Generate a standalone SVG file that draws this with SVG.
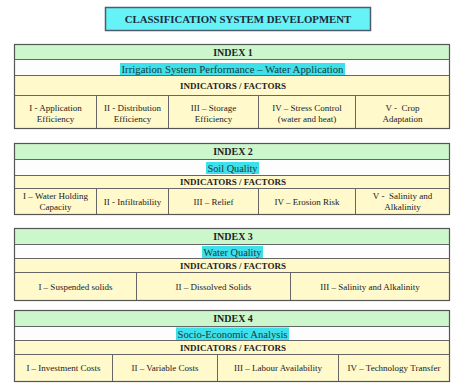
<svg xmlns="http://www.w3.org/2000/svg" width="452" height="385" viewBox="0 0 452 385">
  <style>
    text { font-family: "Liberation Serif", "Times New Roman", serif; fill: #222; text-anchor: middle; }
    .title { font-size: 10.8px; font-weight: bold; fill: #1e2a3a; }
    .idx { font-size: 10px; font-weight: bold; }
    .sub { font-size: 10.6px; fill: #1a3a40; }
    .hdr { font-size: 9px; font-weight: bold; }
    .cell { font-size: 9px; }
    .green { fill: #ccf6cc; stroke: #666; stroke-width: 1; }
    .white { fill: #fdfdfd; stroke: #666; stroke-width: 1; }
    .yellow { fill: #fff9cc; stroke: #666; stroke-width: 1; }
    .hl { fill: #3ee0ea; }
    .frame { fill: none; stroke: #555; stroke-width: 1.2; }
  </style>
  <rect width="452" height="385" fill="#ffffff"/>

  <!-- heading -->
  <g id="heading">
    <rect x="105.5" y="7.5" width="265" height="23" fill="#66f3f8" stroke="#4f5d6a" stroke-width="1.5"/>
    <text class="title" x="238" y="22.5">CLASSIFICATION SYSTEM DEVELOPMENT</text>
  </g>

  <!-- index 1 -->
  <g id="index1">
    <rect class="green" x="14.5" y="44.5" width="435" height="15"/>
    <rect class="white" x="14.5" y="59.5" width="435" height="16"/>
    <rect class="yellow" x="14.5" y="75.5" width="435" height="20"/>
    <rect class="yellow" x="14.5" y="95.5" width="82" height="33"/>
    <rect class="yellow" x="96.5" y="95.5" width="72" height="33"/>
    <rect class="yellow" x="168.5" y="95.5" width="90" height="33"/>
    <rect class="yellow" x="258.5" y="95.5" width="97" height="33"/>
    <rect class="yellow" x="355.5" y="95.5" width="94" height="33"/>
    <rect class="frame" x="14.5" y="44.5" width="435" height="84"/>
    <text class="idx" x="233" y="55.5">INDEX 1</text>
    <rect class="hl" x="120" y="63" width="225" height="12"/>
    <text class="sub" x="232.5" y="72.5" textLength="222" lengthAdjust="spacingAndGlyphs">Irrigation System Performance – Water Application</text>
    <text class="hdr" x="233" y="88.5">INDICATORS / FACTORS</text>
    <text class="cell" x="55.5" y="111">I - Application</text>
    <text class="cell" x="55.5" y="121.5">Efficiency</text>
    <text class="cell" x="132.5" y="111">II - Distribution</text>
    <text class="cell" x="132.5" y="121.5">Efficiency</text>
    <text class="cell" x="213.5" y="111">III – Storage</text>
    <text class="cell" x="213.5" y="121.5">Efficiency</text>
    <text class="cell" x="307" y="111">IV – Stress Control</text>
    <text class="cell" x="307" y="121.5">(water and heat)</text>
    <text class="cell" x="402.5" y="111" xml:space="preserve">V -  Crop</text>
    <text class="cell" x="402.5" y="121.5">Adaptation</text>
  </g>

  <!-- index 2 -->
  <g id="index2">
    <rect class="green" x="14.5" y="143.5" width="435" height="16"/>
    <rect class="white" x="14.5" y="159.5" width="435" height="16"/>
    <rect class="yellow" x="14.5" y="175.5" width="435" height="13"/>
    <rect class="yellow" x="14.5" y="188.5" width="82" height="26"/>
    <rect class="yellow" x="96.5" y="188.5" width="72" height="26"/>
    <rect class="yellow" x="168.5" y="188.5" width="90" height="26"/>
    <rect class="yellow" x="258.5" y="188.5" width="97" height="26"/>
    <rect class="yellow" x="355.5" y="188.5" width="94" height="26"/>
    <rect class="frame" x="14.5" y="143.5" width="435" height="71"/>
    <text class="idx" x="233" y="155">INDEX 2</text>
    <rect class="hl" x="206" y="162" width="53" height="12"/>
    <text class="sub" x="232.5" y="171.5" textLength="50" lengthAdjust="spacingAndGlyphs">Soil Quality</text>
    <text class="hdr" x="233" y="185">INDICATORS / FACTORS</text>
    <text class="cell" x="55.5" y="199">I – Water Holding</text>
    <text class="cell" x="55.5" y="209.5">Capacity</text>
    <text class="cell" x="132.5" y="204.5">II - Infiltrability</text>
    <text class="cell" x="213.5" y="204.5">III – Relief</text>
    <text class="cell" x="307" y="204.5">IV – Erosion Risk</text>
    <text class="cell" x="402.5" y="199" xml:space="preserve">V -  Salinity and</text>
    <text class="cell" x="402.5" y="209.5">Alkalinity</text>
  </g>

  <!-- index 3 -->
  <g id="index3">
    <rect class="green" x="14.5" y="228.5" width="435" height="16"/>
    <rect class="white" x="14.5" y="244.5" width="435" height="14"/>
    <rect class="yellow" x="14.5" y="258.5" width="435" height="14"/>
    <rect class="yellow" x="14.5" y="272.5" width="122" height="28"/>
    <rect class="yellow" x="136.5" y="272.5" width="154" height="28"/>
    <rect class="yellow" x="290.5" y="272.5" width="159" height="28"/>
    <rect class="frame" x="14.5" y="228.5" width="435" height="72"/>
    <text class="idx" x="233" y="240">INDEX 3</text>
    <rect class="hl" x="202" y="246" width="61" height="12"/>
    <text class="sub" x="232.5" y="255.5" textLength="58" lengthAdjust="spacingAndGlyphs">Water Quality</text>
    <text class="hdr" x="233" y="269">INDICATORS / FACTORS</text>
    <text class="cell" x="75.5" y="289.5">I – Suspended solids</text>
    <text class="cell" x="213.5" y="289.5">II – Dissolved Solids</text>
    <text class="cell" x="370" y="289.5">III – Salinity and Alkalinity</text>
  </g>

  <!-- index 4 -->
  <g id="index4">
    <rect class="green" x="14.5" y="310.5" width="435" height="16"/>
    <rect class="white" x="14.5" y="326.5" width="435" height="14"/>
    <rect class="yellow" x="14.5" y="340.5" width="435" height="14"/>
    <rect class="yellow" x="14.5" y="354.5" width="98" height="27"/>
    <rect class="yellow" x="112.5" y="354.5" width="105" height="27"/>
    <rect class="yellow" x="217.5" y="354.5" width="121" height="27"/>
    <rect class="yellow" x="338.5" y="354.5" width="111" height="27"/>
    <rect class="frame" x="14.5" y="310.5" width="435" height="71"/>
    <text class="idx" x="233" y="322">INDEX 4</text>
    <rect class="hl" x="176" y="327.5" width="113" height="12.5"/>
    <text class="sub" x="232.5" y="337.5" textLength="110" lengthAdjust="spacingAndGlyphs">Socio-Economic Analysis</text>
    <text class="hdr" x="233" y="351">INDICATORS / FACTORS</text>
    <text class="cell" x="63.5" y="371">I – Investment Costs</text>
    <text class="cell" x="165" y="371">II – Variable Costs</text>
    <text class="cell" x="278" y="371">III – Labour Availability</text>
    <text class="cell" x="394" y="371">IV – Technology Transfer</text>
  </g>
</svg>
